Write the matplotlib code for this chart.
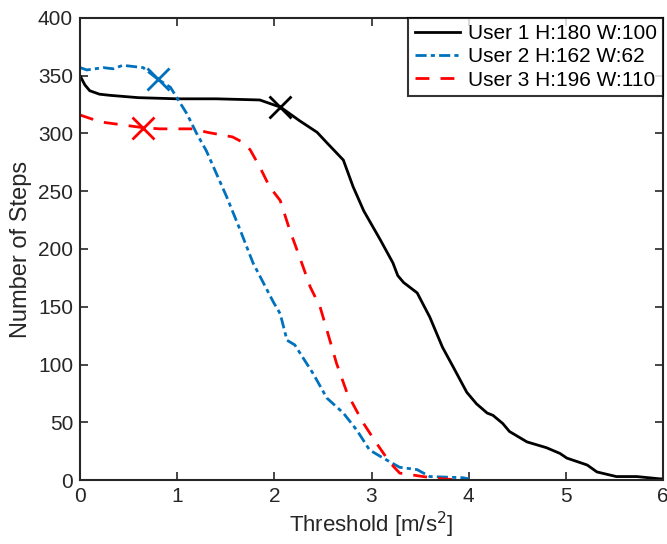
import matplotlib
matplotlib.use("Agg")
import matplotlib.pyplot as plt

plt.rcParams['font.family'] = ['Liberation Sans', 'DejaVu Sans']

# User 1 (black solid)
u1_x = [0.0, 0.05, 0.1, 0.2, 0.31, 0.6, 1.0, 1.4, 1.85, 2.02, 2.06, 2.26, 2.44, 2.54, 2.71,
        2.81, 2.92, 3.09, 3.22, 3.27, 3.33, 3.47, 3.6, 3.73, 3.84, 3.98, 4.08, 4.19, 4.25,
        4.35, 4.42, 4.6, 4.8, 4.94, 5.01, 5.22, 5.32, 5.52, 5.73, 5.97, 6.0]
u1_y = [350, 342, 337, 334, 333, 331, 330, 330, 329, 324, 323, 311, 301, 292, 277,
        254, 233, 208, 188, 177, 171, 162, 141, 115, 98, 76, 66, 58, 56,
        49, 42, 33, 28, 23, 19, 13, 7, 3, 3, 1, 1]

# User 2 (blue dash-dot)
u2_x = [0.0, 0.07, 0.24, 0.34, 0.44, 0.65, 0.8, 0.93, 1.1, 1.2, 1.3, 1.51, 1.65, 1.78,
        1.99, 2.06, 2.13, 2.21, 2.4, 2.54, 2.71, 2.85, 2.98, 3.12, 3.29, 3.47, 3.6, 3.94, 4.0]
u2_y = [357, 355, 357, 356, 359, 357, 347, 340, 317, 300, 285, 245, 216, 188,
        154, 144, 121, 117, 92, 71, 58, 43, 26, 19, 11, 9, 3, 2, 1]

# User 3 (red dashed)
u3_x = [0.0, 0.21, 0.65, 0.82, 1.16, 1.31, 1.57, 1.66, 1.75, 1.85, 1.95, 2.06, 2.16,
        2.26, 2.37, 2.47, 2.54, 2.64, 2.75, 2.91, 3.05, 3.19, 3.29, 3.53, 3.73, 3.92]
u3_y = [316, 310, 305, 304, 304, 301, 297, 293, 286, 271, 254, 242, 216,
        193, 167, 150, 130, 101, 75, 50, 32, 15, 6, 3, 1, 0]

# chosen thresholds (x markers)
mark_x = [2.06, 0.80, 0.65]
mark_y = [323, 347, 305]

labels = ['User 1 H:180 W:100', 'User 2 H:162 W:62', 'User 3 H:196 W:110']
colors = ['black', '#0072BD', 'red']
styles = ['-', (0, (4, 1.5, 1.5, 1.5)), (0, (5, 4))]

fig = plt.figure(figsize=(6.67, 5.44), dpi=100)
ax = fig.add_axes([0.12, 0.1176, 0.874, 0.8494])

series = [(u1_x, u1_y), (u2_x, u2_y), (u3_x, u3_y)]
for i, (xs, ys) in enumerate(series):
    ax.plot(xs, ys, color=colors[i], linestyle=styles[i], linewidth=2, label=labels[i])
for i in range(3):
    ax.plot(mark_x[i], mark_y[i], marker='x', color=colors[i], markersize=16,
            markeredgewidth=2, linestyle='none')

ax.set_xlim(0, 6)
ax.set_ylim(0, 400)
ax.set_xticks(range(0, 7))
ax.set_yticks(range(0, 401, 50))
ax.tick_params(direction='in', top=True, right=True, length=6, width=1.2,
               labelsize=15, labelcolor='#262626', color='#262626', pad=5)
for s in ax.spines.values():
    s.set_linewidth(1.5)
    s.set_color('#262626')

ax.set_xlabel('Threshold [m/s$^2$]', fontsize=16, color='#262626', labelpad=3)
ax.set_ylabel('Number of Steps', fontsize=17, color='#262626', labelpad=4)

leg = ax.legend(loc='upper right', fontsize=15, frameon=True, fancybox=False,
                borderaxespad=0, handlelength=2.2, handletextpad=0.35,
                labelspacing=0.2, borderpad=0.3)
leg.get_frame().set_edgecolor('black')
leg.get_frame().set_linewidth(1.5)

fig.savefig('out.png', dpi=100)
